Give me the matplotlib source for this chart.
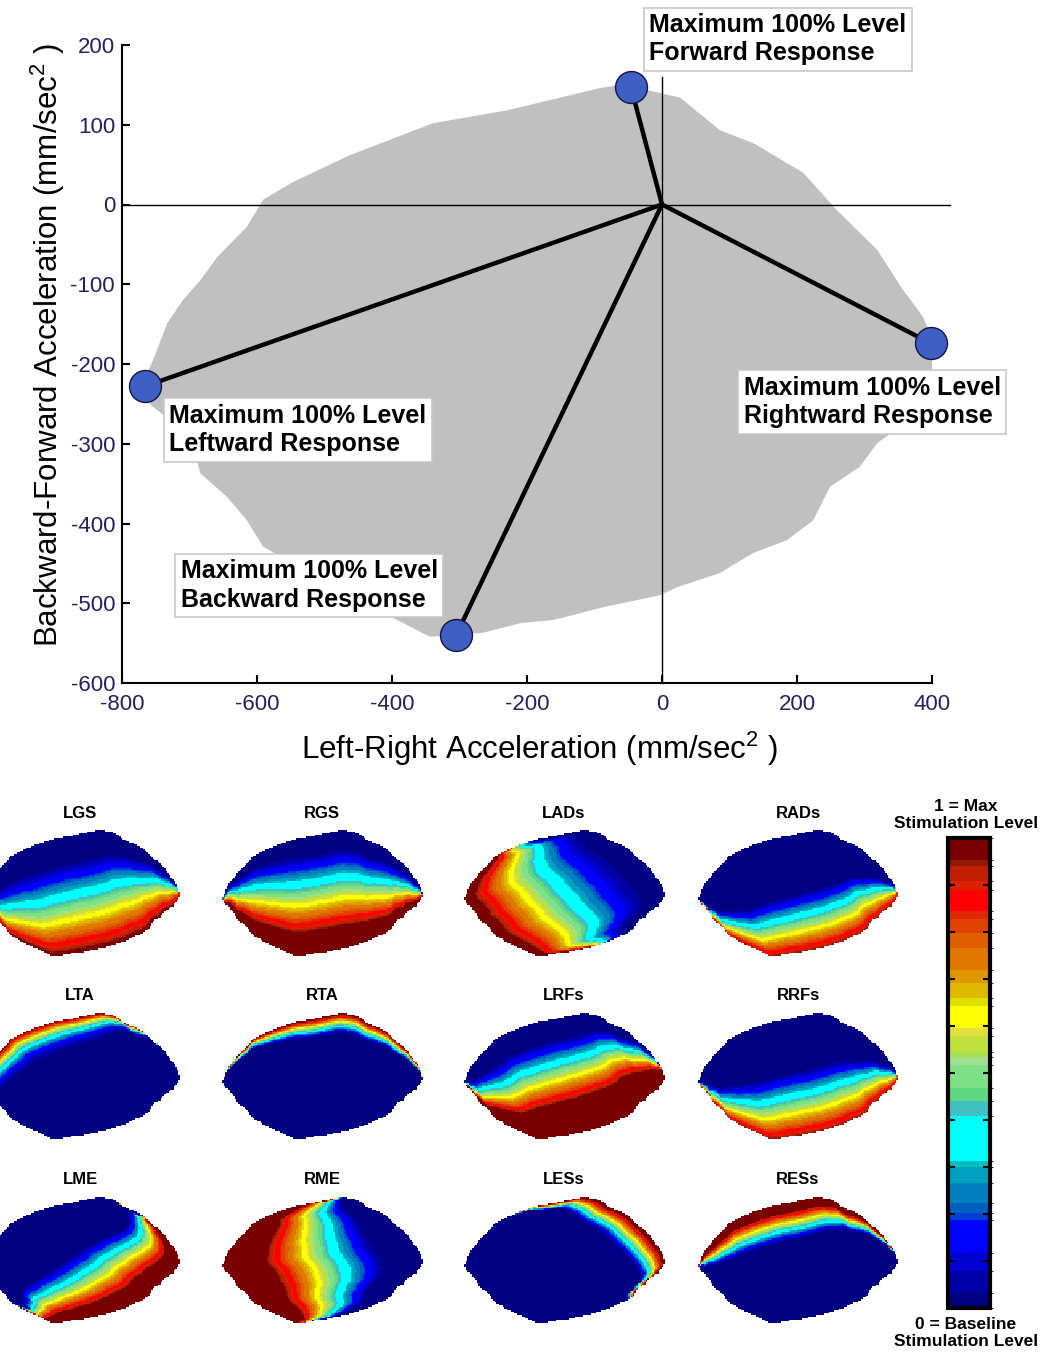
import numpy as np
import matplotlib
matplotlib.use("Agg")
import matplotlib.pyplot as plt
from matplotlib.colors import ListedColormap, BoundaryNorm
from matplotlib.cm import ScalarMappable
from matplotlib.path import Path

plt.rcParams['font.family'] = ['Liberation Sans', 'DejaVu Sans']
plt.rcParams['mathtext.fontset'] = 'custom'
plt.rcParams['mathtext.rm'] = 'Liberation Sans'
plt.rcParams['mathtext.it'] = 'Liberation Sans'
plt.rcParams['mathtext.default'] = 'regular'
plt.rcParams['axes.unicode_minus'] = False

# maximum 100% level responses (mm/sec^2)
resp_names = ['Forward', 'Rightward', 'Leftward', 'Backward']
resp_x = [-46, 398, -766, -305]
resp_y = [147, -174, -228, -540]

# outline of the reachable acceleration region (grey area)
blob_x = [-770, -754, -733, -710, -684, -659, -615, -591, -547, -462, -339, -230,
          -210, -92, -62, -25, 27, 86, 135, 209, 259, 319, 357, 387, 404, 412,
          367, 319, 293, 249, 224, 185, 135, 86, 22, -3, -87, -161, -210, -265,
          -344, -413, -492, -591, -615, -644, -684, -689, -729, -758]
blob_y = [-225, -195, -149, -120, -95, -66, -28, 6, 28, 62, 102, 118,
          122, 146, 150, 144, 134, 93, 77, 40, -7, -57, -107, -141, -176, -215,
          -270, -299, -329, -354, -396, -421, -437, -462, -480, -490, -505, -521, -525, -537,
          -542, -512, -477, -429, -396, -367, -337, -320, -270, -251]

# muscle stimulation maps: gradient direction (image frame), onset, gain, gamma
muscles = ['LGS', 'RGS', 'LADs', 'RADs', 'LTA', 'RTA', 'LRFs', 'RRFs',
           'LME', 'RME', 'LESs', 'RESs']
grad_dir = [(0.35, 1), (0, 1), (-1, 0.35), (0.5, 1), (-1, -1), (0.15, -1),
            (0.6, 1), (0.35, 1), (1, 0.6), (-1, 0.12), (1, -0.5), (-0.4, -1)]
onset = [0.22, 0.15, 0.10, 0.50, 0.70, 0.84, 0.18, 0.45, 0.44, 0.20, 0.80, 0.68]
gain = [1.0, 1.25, 1.05, 0.95, 1.0, 1.05, 1.5, 0.95, 1.3, 1.35, 1.1, 1.3]
gamma = [1, 1, 1.3, 1, 2, 1, 1, 1, 1, 1, 1, 1]

# colour scale, bottom (0 = baseline) to top (1 = max)
level_edges = [0, 0.032, 0.078, 0.117, 0.188, 0.202, 0.223, 0.266, 0.301, 0.312,
               0.408, 0.440, 0.468, 0.518, 0.533, 0.544, 0.579, 0.596, 0.642, 0.660,
               0.691, 0.720, 0.766, 0.798, 0.828, 0.844, 0.890, 0.908, 0.940, 0.954, 1.0]
level_colors = ['#000080', '#0000a8', '#0000d0', '#0000ff', '#0040d0', '#0060c0',
                '#0080c0', '#00a0c0', '#00c0c0', '#00ffff', '#40c0c0', '#60d880',
                '#80e088', '#a0e090', '#a8e050', '#c0e040', '#e0e040', '#ffff00',
                '#e0e000', '#e0b800', '#e09800', '#e07800', '#e06000', '#e04000',
                '#e02800', '#ff0000', '#dc2000', '#c02000', '#901800', '#780000']

W, H = 1048, 1355
fig = plt.figure(figsize=(W / 100, H / 100), dpi=100)

# ---------------- top plot ----------------
ax = fig.add_axes([122 / W, 1 - 683 / H, 810 / W, 638 / H])
ax.fill(blob_x, blob_y, color='#c0c0c0', lw=0, zorder=1)
ax.plot([-800, 427], [0, 0], color='k', lw=1.0, clip_on=False, zorder=2)
ax.plot([0, 0], [-600, 160], color='k', lw=1.0, clip_on=False, zorder=2)
for x, y in zip(resp_x, resp_y):
    ax.plot([0, x], [0, y], color='k', lw=3.2, solid_capstyle='round', zorder=3)
ax.plot(resp_x, resp_y, 'o', ms=23, mfc='#3f5fc4', mec='#14143c', mew=1.0,
        clip_on=False, zorder=4)

label_pos = [(-19, 240), (121, -215), (-730, -250), (-713, -445)]
for name, (tx, ty) in zip(resp_names, label_pos):
    ax.text(tx, ty, 'Maximum 100% Level\n' + name + ' Response', ha='left', va='top',
            fontsize=18, fontweight='bold', linespacing=1.22, zorder=5,
            bbox=dict(boxstyle='square,pad=0.22', fc='white', ec='#c8c8c8', lw=1.2))

ax.set_xlim(-800, 400)
ax.set_ylim(-600, 200)
ax.set_xticks(np.arange(-800, 401, 200))
ax.set_yticks(np.arange(-600, 201, 100))
for s in ['top', 'right']:
    ax.spines[s].set_visible(False)
for s in ['left', 'bottom']:
    ax.spines[s].set_linewidth(1.5)
tick_col = '#26215e'
ax.tick_params(direction='in', length=6, width=1.5, labelsize=16, labelcolor=tick_col)
ax.tick_params(axis='x', pad=8)
ax.tick_params(axis='y', pad=5)
ax.set_xlabel('Left-Right Acceleration (mm/sec$^{2}$ )', fontsize=22.5)
ax.set_ylabel('Backward-Forward Acceleration (mm/sec$^{2}$ )', fontsize=22.5)
ax.xaxis.set_label_coords(0.516, -0.073)
ax.yaxis.set_label_coords(-0.068, 0.53)

# ---------------- muscle maps ----------------
cmap = ListedColormap(level_colors)
norm = BoundaryNorm(level_edges, cmap.N)

MW, MH = 200, 126
col_left = [-20, 222, 464, 698]
row_top = [830, 1013, 1197]

bx = np.array(blob_x, float)
by = np.array(blob_y, float)
poly = np.column_stack([(bx - bx.min()) / (bx.max() - bx.min()) * MW,
                        (by.max() - by) / (by.max() - by.min()) * MH])
nx, ny = 125, 79
Xc = (np.arange(nx) + 0.5) * MW / nx
Yc = (np.arange(ny) + 0.5) * MH / ny
GX, GY = np.meshgrid(Xc, Yc)
pts = np.column_stack([GX.ravel(), GY.ravel()])
inside = Path(poly).contains_points(pts)

a = poly
e = np.roll(poly, -1, axis=0) - a
wx = a[None, :, 0] - pts[:, 0:1]
wy = a[None, :, 1] - pts[:, 1:2]


def chord_fraction(d):
    # position of each grid point along the chord of the region in direction d
    d = np.asarray(d, float)
    d = d / np.hypot(*d)
    den = d[0] * e[:, 1] - d[1] * e[:, 0]
    with np.errstate(divide='ignore', invalid='ignore'):
        t = (wx * e[:, 1] - wy * e[:, 0]) / den
        u = (wx * d[1] - wy * d[0]) / den
    ok = (u >= 0) & (u <= 1) & np.isfinite(t)
    fwd = np.where(ok & (t > 0), t, np.inf).min(axis=1)
    back = np.where(ok & (t <= 0), -t, np.inf).min(axis=1)
    frac = back / (back + fwd)
    return np.nan_to_num(frac, nan=0.0)


for i, name in enumerate(muscles):
    r, c = divmod(i, 4)
    L, T = col_left[c], row_top[r]
    mx = fig.add_axes([L / W, 1 - (T + MH) / H, MW / W, MH / H])
    frac = chord_fraction(grad_dir[i])
    val = np.clip((frac - onset[i]) / (1 - onset[i]) * gain[i], 0, 1) ** gamma[i]
    val = np.clip(val, 0, 0.9999)
    img = np.ma.masked_array(val, ~inside).reshape(ny, nx)
    mx.imshow(img, cmap=cmap, norm=norm, extent=(0, MW, MH, 0),
              interpolation='nearest', aspect='auto')
    mx.set_xlim(0, MW)
    mx.set_ylim(MH, 0)
    mx.axis('off')
    fig.text((L + MW / 2) / W, 1 - (T - 17) / H, name, ha='center', va='center',
             fontsize=12, fontweight='bold')

# ---------------- colour bar ----------------
cax = fig.add_axes([948 / W, 1 - 1308 / H, 42 / W, 470 / H])
cb = fig.colorbar(ScalarMappable(norm=norm, cmap=cmap), cax=cax, spacing='proportional')
cb.outline.set_linewidth(3)
cb.set_ticks(np.arange(0.1, 0.91, 0.1))
cax.tick_params(direction='in', length=5, width=1.5, left=True, right=True,
                labelleft=False, labelright=False)
fig.text(966 / W, 1 - 815 / H, '1 = Max\nStimulation Level', ha='center', va='center',
         fontsize=12.5, fontweight='bold', linespacing=1.1)
fig.text(966 / W, 1 - 1333 / H, '0 = Baseline\nStimulation Level', ha='center',
         va='center', fontsize=12.5, fontweight='bold', linespacing=1.1)

fig.savefig('out.png', dpi=100)
